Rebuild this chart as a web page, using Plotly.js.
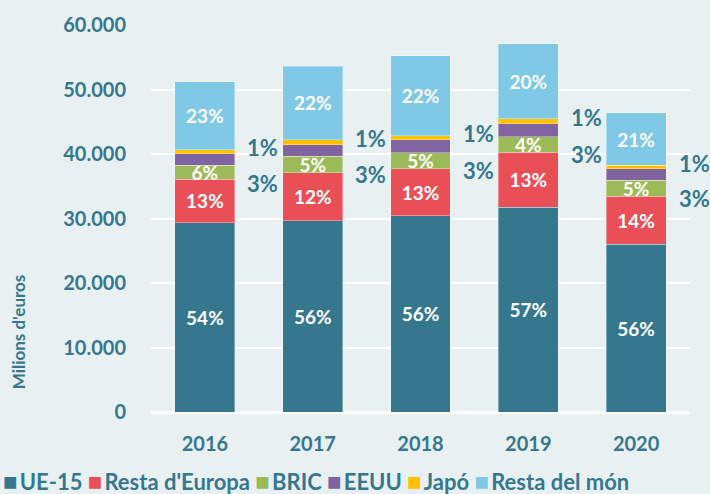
<!DOCTYPE html>
<html><head><meta charset="utf-8">
<script src="https://cdn.plot.ly/plotly-3.0.1.min.js"></script>
<style>html,body{margin:0;padding:0;background:#E9F0F2;}</style>
</head><body><div id="chart" style="width:710px;height:494px;"></div>
<script>
var years = ['2016','2017','2018','2019','2020'];
var seriesNames = ['UE-15', "Resta d'Europa", 'BRIC', 'EEUU', 'Japó', 'Resta del món'];
var colors = ['#35788E', '#E94F57', '#9BBB59', '#8064A2', '#FFC000', '#7FC8E6'];
var ue15 = [29330, 29640, 30410, 31760, 26030];
var restaEuropa = [6770, 7430, 7290, 8520, 7430];
var bric = [2165, 2590, 2470, 2430, 2480];
var eeuu = [1755, 1810, 2020, 2010, 1760];
var japo = [670, 770, 670, 720, 570];
var restaMon = [10480, 11360, 12400, 11620, 8100];
var labUe15 = ['54%', '56%', '56%', '57%', '56%'];
var labEuropa = ['13%', '12%', '13%', '13%', '14%'];
var labBric = ['6%', '5%', '5%', '4%', '5%'];
var labEeuu = ['3%', '3%', '3%', '3%', '3%'];
var labJapo = ['1%', '1%', '1%', '1%', '1%'];
var labMon = ['23%', '22%', '22%', '20%', '21%'];

var TEAL = '#35788E';
var values = [ue15, restaEuropa, bric, eeuu, japo, restaMon];
var labels = [labUe15, labEuropa, labBric, null, null, labMon];

var traces = values.map(function(v, i) {
  return {
    type: 'bar', x: years, y: v, name: seriesNames[i],
    marker: {color: colors[i], line: {color: 'rgba(255,255,255,0.35)', width: 1}},
    text: labels[i] ? labels[i] : v.map(function(){return '';}),
    textposition: 'inside', insidetextanchor: 'middle', textangle: 0,
    constraintext: 'none',
    insidetextfont: {family: 'Lato', size: 19, color: '#FFFFFF', weight: 'bold'},
    hoverinfo: 'x+y+name', showlegend: false
  };
});

// cumulative positions for outside labels (x as category index)
var annotations = [];
years.forEach(function(yr, k) {
  var base = ue15[k] + restaEuropa[k] + bric[k];
  var eeuuMid = base + eeuu[k] / 2;
  var japoMid = base + eeuu[k] + japo[k] / 2;
  annotations.push({x: k, y: japoMid, xref: 'x', yref: 'y', text: labJapo[k], showarrow: false,
    xshift: 58, yshift: 4, font: {family: 'Lato', size: 22, color: TEAL, weight: 'bold'}});
  annotations.push({x: k, y: eeuuMid, xref: 'x', yref: 'y', text: labEeuu[k], showarrow: false,
    xshift: 58, yshift: -24, font: {family: 'Lato', size: 22, color: TEAL, weight: 'bold'}});
});

// y-axis title
annotations.push({xref: 'paper', yref: 'paper', x: -0.246, y: 0.207, xanchor: 'center', yanchor: 'middle',
  text: "Milions d'euros", textangle: -90, showarrow: false,
  font: {family: 'Lato', size: 17, color: TEAL, weight: 'bold'}});

// legend built as text
var legendText = seriesNames.map(function(n, i) {
  return '<span style="color:' + colors[i] + ';font-size:24px">■</span><span style="font-size:9px"> </span>' + n;
}).join(' ');
annotations.push({xref: 'paper', yref: 'paper', x: -0.278, y: -0.176, xanchor: 'left', yanchor: 'middle',
  text: legendText, showarrow: false, font: {family: 'Lato', size: 22, color: TEAL, weight: 'bold'}});

var layout = {
  width: 710, height: 494,
  margin: {l: 151, r: 20, t: 25, b: 82},
  paper_bgcolor: '#E9F0F2', plot_bgcolor: '#E9F0F2',
  barmode: 'stack', bargap: 0.444,
  separators: ',.',
  showlegend: false,
  xaxis: {
    type: 'category', range: [-0.5, years.length - 0.5],
    showgrid: false, zeroline: false, showline: false,
    ticks: 'outside', ticklen: 14, tickcolor: 'rgba(0,0,0,0)',
    tickfont: {family: 'Lato', size: 20, color: TEAL, weight: 'bold'}
  },
  yaxis: {
    range: [0, 60000], dtick: 10000, tickformat: ',d',
    showgrid: true, gridcolor: '#FFFFFF', gridwidth: 2,
    zeroline: true, zerolinecolor: '#FFFFFF', zerolinewidth: 3,
    showline: false,
    ticks: 'outside', ticklen: 20, tickcolor: 'rgba(0,0,0,0)',
    tickfont: {family: 'Lato', size: 20, color: TEAL, weight: 'bold'}
  },
  annotations: annotations
};

Plotly.newPlot('chart', traces, layout, {displayModeBar: false, staticPlot: true});
</script></body></html>
